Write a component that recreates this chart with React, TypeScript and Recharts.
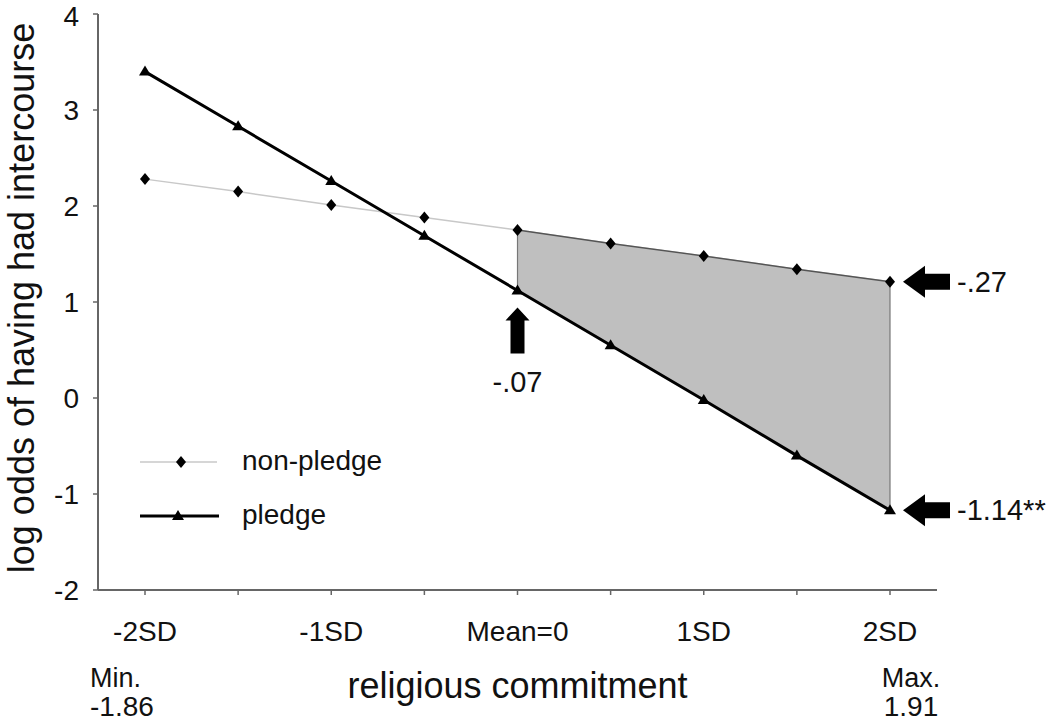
import {
  ComposedChart,
  Line,
  Area,
  XAxis,
  YAxis,
  ReferenceDot,
  ReferenceLine,
  Legend,
} from "recharts";

const categories = ["-2SD", "-1.5SD", "-1SD", "-0.5SD", "Mean=0", "0.5SD", "1SD", "1.5SD", "2SD"];
const tickLabels = ["-2SD", "", "-1SD", "", "Mean=0", "", "1SD", "", "2SD"];
const nonPledge = [2.28, 2.15, 2.01, 1.88, 1.75, 1.61, 1.48, 1.34, 1.21];
const pledge = [3.4, 2.83, 2.26, 1.69, 1.12, 0.55, -0.02, -0.6, -1.17];
const yTicks = [-2, -1, 0, 1, 2, 3, 4];
const seriesNames = ["non-pledge", "pledge"];
const shadeStart = "Mean=0";
const shadeEnd = "2SD";
const slopeNotes = [
  { at: "Mean=0", series: "pledge", text: "-.07" },
  { at: "2SD", series: "non-pledge", text: "-.27" },
  { at: "2SD", series: "pledge", text: "-1.14**" },
];
const extremes = [
  { at: "-2SD", title: "Min.", value: "-1.86" },
  { at: "2SD", title: "Max.", value: "1.91" },
];

const startIdx = categories.indexOf(shadeStart);
const endIdx = categories.indexOf(shadeEnd);

const data = categories.map((name, i) => ({
  name,
  nonPledge: nonPledge[i],
  pledge: pledge[i],
  band: i >= startIdx && i <= endIdx ? [pledge[i], nonPledge[i]] : null,
  edge: i >= startIdx && i <= endIdx ? nonPledge[i] : null,
}));

const FONT = "'Liberation Sans', Arial, Helvetica, sans-serif";
const AXIS = "#666";

function valueAt(at: string, series: string) {
  const i = categories.indexOf(at);
  return series === "pledge" ? pledge[i] : nonPledge[i];
}

const Diamond = (props: any) => {
  const { cx, cy, index } = props;
  if (cx == null || cy == null) return <g key={`d-${index}`} />;
  return (
    <path
      key={`d-${index}`}
      d={`M${cx},${cy - 6}L${cx + 5},${cy}L${cx},${cy + 6}L${cx - 5},${cy}Z`}
      fill="#000"
    />
  );
};

const Triangle = (props: any) => {
  const { cx, cy, index } = props;
  if (cx == null || cy == null) return <g key={`t-${index}`} />;
  return (
    <path
      key={`t-${index}`}
      d={`M${cx},${cy - 6}L${cx + 6},${cy + 4}L${cx - 6},${cy + 4}Z`}
      fill="#000"
    />
  );
};

// up arrow under a point, label below it
const UpArrow = (text: string) => (props: any) => {
  const { cx, cy } = props;
  const y0 = cy + 17;
  const pts = [
    [cx, y0],
    [cx + 12, y0 + 13],
    [cx + 7, y0 + 13],
    [cx + 7, y0 + 46],
    [cx - 7, y0 + 46],
    [cx - 7, y0 + 13],
    [cx - 12, y0 + 13],
  ];
  return (
    <g>
      <polygon points={pts.map((p) => p.join(",")).join(" ")} fill="#000" />
      <text x={cx} y={cy + 102} textAnchor="middle" fontSize={29} fill="#111">
        {text}
      </text>
    </g>
  );
};

// left-pointing arrow to the right of a point, label after it
const LeftArrow = (text: string) => (props: any) => {
  const { cx, cy } = props;
  const x0 = cx + 13;
  const pts = [
    [x0, cy],
    [x0 + 22, cy - 16],
    [x0 + 22, cy - 8],
    [x0 + 47, cy - 8],
    [x0 + 47, cy + 8],
    [x0 + 22, cy + 8],
    [x0 + 22, cy + 16],
  ];
  return (
    <g>
      <polygon points={pts.map((p) => p.join(",")).join(" ")} fill="#000" />
      <text x={cx + 67} y={cy + 10} fontSize={29} fill="#111">
        {text}
      </text>
    </g>
  );
};

const ExtremeLabel = (title: string, value: string, left: boolean) => (props: any) => {
  const { cx, cy } = props;
  const x = left ? cx - 55 : cx + 21;
  const anchor = left ? "start" : "middle";
  return (
    <g>
      <text x={x} y={cy + 97} textAnchor={anchor} fontSize={27} fill="#111">
        {title}
      </text>
      <text x={x} y={cy + 126} textAnchor={anchor} fontSize={28} fill="#111">
        {value}
      </text>
    </g>
  );
};

const renderYTitle = (props: any) => {
  const vb = props.viewBox || { y: 14, height: 576 };
  const x = 34;
  const y = vb.y + vb.height / 2 - 4;
  return (
    <text
      x={x}
      y={y}
      transform={`rotate(-90, ${x}, ${y})`}
      textAnchor="middle"
      fontSize={36}
      fill="#111"
    >
      log odds of having had intercourse
    </text>
  );
};

const renderLegend = () => (
  <svg width={280} height={100}>
    <line x1={10} y1={22} x2={87} y2={22} stroke="#c8c8c8" strokeWidth={1.5} />
    <path d="M51,16L56,22L51,28L46,22Z" fill="#000" />
    <text x={112} y={30} fontSize={28} fill="#111" fontFamily={FONT}>
      {seriesNames[0]}
    </text>
    <line x1={10} y1={76} x2={89} y2={76} stroke="#000" strokeWidth={3} />
    <path d="M48,70L54,80L42,80Z" fill="#000" />
    <text x={112} y={84} fontSize={28} fill="#111" fontFamily={FONT}>
      {seriesNames[1]}
    </text>
  </svg>
);

export default function App() {
  return (
    <div style={{ position: "absolute", left: 0, top: 0, width: 1050, height: 721, background: "#fff", fontFamily: FONT }}>
      <ComposedChart
        width={1050}
        height={721}
        data={data}
        margin={{ top: 14, right: 113, bottom: 71, left: 0 }}
      >
        <XAxis
          dataKey="name"
          interval={0}
          height={60}
          padding={{ left: 47, right: 47 }}
          tickSize={5}
          tickMargin={26}
          tickFormatter={(_v: string, i: number) => tickLabels[i]}
          tick={{ fontSize: 28, fill: "#111" }}
          tickLine={{ stroke: AXIS, strokeWidth: 1.5 }}
          axisLine={{ stroke: AXIS, strokeWidth: 2 }}
          label={{ value: "religious commitment", position: "bottom", offset: 22, fontSize: 36, fill: "#111" }}
        />
        <YAxis
          width={98}
          domain={[-2, 4]}
          ticks={yTicks}
          allowDataOverflow
          tickSize={5}
          tickMargin={14}
          tick={{ fontSize: 28, fill: "#111" }}
          tickLine={{ stroke: AXIS, strokeWidth: 1.5 }}
          axisLine={{ stroke: AXIS, strokeWidth: 2 }}
          label={{ position: "insideLeft", content: renderYTitle }}
        />
        <Legend
          layout="vertical"
          align="center"
          verticalAlign="middle"
          wrapperStyle={{ left: 130, top: 440, width: 280, height: 100 }}
          content={renderLegend}
        />
        <Area
          dataKey="band"
          type="linear"
          fill="#bfbfbf"
          fillOpacity={1}
          stroke="none"
          isAnimationActive={false}
          legendType="none"
        />
        <Line
          dataKey="nonPledge"
          name={seriesNames[0]}
          type="linear"
          stroke="#c8c8c8"
          strokeWidth={1.5}
          dot={false}
          isAnimationActive={false}
        />
        <Line
          dataKey="edge"
          type="linear"
          stroke="#555"
          strokeWidth={1.5}
          dot={false}
          isAnimationActive={false}
          legendType="none"
        />
        <ReferenceLine
          segment={[
            { x: shadeStart, y: valueAt(shadeStart, "pledge") },
            { x: shadeStart, y: valueAt(shadeStart, "non-pledge") },
          ]}
          stroke="#777"
          strokeWidth={1.2}
        />
        <ReferenceLine
          segment={[
            { x: shadeEnd, y: valueAt(shadeEnd, "pledge") },
            { x: shadeEnd, y: valueAt(shadeEnd, "non-pledge") },
          ]}
          stroke="#777"
          strokeWidth={1.2}
        />
        <Line
          dataKey="pledge"
          name={seriesNames[1]}
          type="linear"
          stroke="#000"
          strokeWidth={3}
          dot={Triangle}
          activeDot={false}
          isAnimationActive={false}
        />
        <Line
          dataKey="nonPledge"
          type="linear"
          stroke="none"
          dot={Diamond}
          activeDot={false}
          isAnimationActive={false}
          legendType="none"
        />
        {slopeNotes.map((n) => (
          <ReferenceDot
            key={n.text}
            x={n.at}
            y={valueAt(n.at, n.series)}
            r={0}
            ifOverflow="visible"
            shape={n.at === shadeStart ? UpArrow(n.text) : LeftArrow(n.text)}
          />
        ))}
        {extremes.map((e, i) => (
          <ReferenceDot
            key={e.title}
            x={e.at}
            y={yTicks[0]}
            r={0}
            ifOverflow="visible"
            shape={ExtremeLabel(e.title, e.value, i === 0)}
          />
        ))}
      </ComposedChart>
    </div>
  );
}
